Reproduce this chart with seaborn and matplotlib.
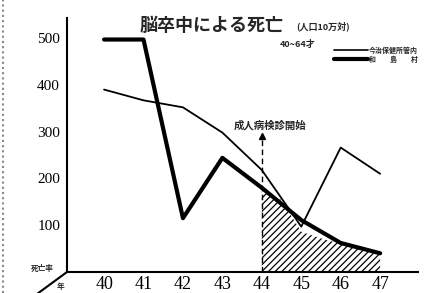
import matplotlib
matplotlib.use('Agg')

import matplotlib.pyplot as plt
import seaborn as sns
import pandas as pd
from matplotlib.lines import Line2D


# 年度 (昭和) と 死亡率 (人口10万対, 40~64才)
years = [40, 41, 42, 43, 44, 45, 46, 47]
imabari = [390, 367, 352, 298, 218, 97, 266, 210]   # 今治保健所管内
wajima = [497, 497, 115, 244, 180, 111, 62, 40]      # 和島村
hatch_years = [44, 44.5, 45, 45.5, 46, 47]
hatch_top = [172, 154, 86, 72, 60, 40]
yticks = [100, 200, 300, 400, 500]
start_year = 44
start_top = 297

W, H = 445, 293
jp = ['Noto Sans CJK JP', 'DejaVu Sans']
num = 'Liberation Serif'


def fx(px):
    return px / W


def fy(py):
    return 1 - py / H


if __name__ == "__main__":
    sns.set_style('white')
    plt.rcParams['font.family'] = jp
    plt.rcParams['hatch.linewidth'] = 0.9

    df = pd.DataFrame({'year': years, 'imabari': imabari, 'wajima': wajima})

    fig = plt.figure(figsize=(4.45, 2.93), dpi=100)
    ax = fig.add_axes([fx(67), 21 / H, fx(418 - 67), (272 - 18) / H])

    ax.fill_between(hatch_years, 0, hatch_top, facecolor='white',
                    edgecolor='black', hatch='/////', linewidth=0)
    sns.lineplot(data=df, x='year', y='imabari', ax=ax, color='black',
                 linewidth=1.3)
    sns.lineplot(data=df, x='year', y='wajima', ax=ax, color='black',
                 linewidth=3)

    # 成人病検診開始
    ax.vlines(start_year, 0, start_top - 8, colors='black',
              linestyles=(0, (4, 2.5)), linewidth=1)
    ax.plot([start_year], [start_top - 6], marker='^', color='black',
            markersize=4)
    ax.text(start_year + 0.2, start_top + 16, '成人病検診開始', ha='center',
            va='center', fontsize=7.5, fontweight='bold')

    ax.set_xlim(39.06, 47.96)
    ax.set_ylim(0, 543)
    ax.set_xticks(years)
    ax.set_xticklabels([str(y) for y in years], family=num, fontsize=13)
    ax.set_yticks(yticks)
    ax.set_yticklabels([str(v) for v in yticks], family=num, fontsize=11)
    ax.tick_params(axis='x', direction='in', length=6, width=1.2, pad=3,
                   colors='black')
    ax.tick_params(axis='y', direction='out', length=4, width=1.2, pad=1,
                   colors='black')
    ax.set_xlabel('')
    ax.set_ylabel('')
    for s in ['top', 'right']:
        ax.spines[s].set_visible(False)
    for s in ['left', 'bottom']:
        ax.spines[s].set_color('black')
        ax.spines[s].set_linewidth(1.5)

    # 奥行きの斜線
    fig.add_artist(Line2D([fx(67), fx(37)], [fy(272), fy(294)],
                          color='black', linewidth=1.5))
    fig.text(fx(42), fy(268), '死亡率', fontsize=5.5, fontweight='bold',
             ha='center', va='center')
    fig.text(fx(60), fy(287), '年', fontsize=5.5, fontweight='bold',
             ha='center', va='center')

    # 題
    fig.text(fx(212), fy(25), '脳卒中による死亡', fontsize=13,
             fontweight='bold', ha='center', va='center')
    fig.text(fx(323), fy(26), '(人口10万対)', fontsize=6.5,
             fontweight='bold', ha='center', va='center')
    fig.text(fx(298), fy(44), '40~64才', fontsize=6.5, fontweight='bold',
             ha='center', va='center')

    # 凡例
    fig.add_artist(Line2D([fx(334), fx(368)], [fy(50), fy(50)],
                          color='black', linewidth=1.2))
    fig.add_artist(Line2D([fx(334), fx(368)], [fy(59), fy(59)],
                          color='black', linewidth=3))
    fig.text(fx(369), fy(50), '今治保健所管内', fontsize=5, fontweight='bold',
             ha='left', va='center')
    fig.text(fx(369), fy(59), '和　　島　　村', fontsize=5,
             fontweight='bold', ha='left', va='center')

    # 綴じ目の跡
    fig.add_artist(Line2D([fx(3), fx(3)], [0, 1], color='#888888',
                          linewidth=1.5, linestyle=(0, (1, 1.5))))

    fig.savefig('out.png', dpi=100)
